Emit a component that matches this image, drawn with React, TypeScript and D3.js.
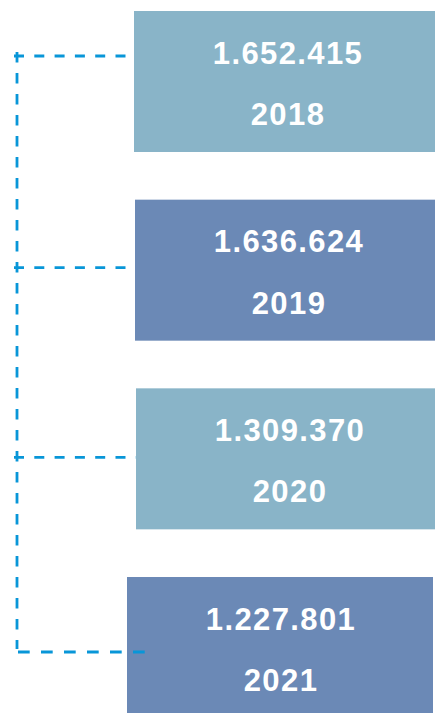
import React from "react";
import * as d3 from "d3";

const years = ["2018", "2019", "2020", "2021"];
const values = [1652415, 1636624, 1309370, 1227801];
const tones = ["light", "dark", "light", "dark"];

const W = 435;
const H = 713;
const boxShift = [0, 1, 2, -7];
const connectorShift = [-25.5, -2.5, -1.5, 4.5];
const connectorEnd = [126, 134, 137, 145];

const fmt = (v: number) => d3.format(",")(v).replace(/,/g, ".");

export default function App() {
  const y = d3
    .scaleBand<string>()
    .domain(years)
    .range([11, 11 + 3 * 188.67 + 141])
    .paddingInner(1 - 141 / 188.67)
    .paddingOuter(0);
  const bw = y.bandwidth();
  const boxLeft = 134;
  const boxW = 306;
  const lineX = 17;
  const color: Record<string, string> = { light: "#89b4c8", dark: "#6b89b6" };
  const lineColor = "#0896d8";
  const cy = (i: number) => (y(years[i]) as number) + bw / 2 + connectorShift[i];

  return (
    <svg
      width={W}
      height={H}
      style={{ position: "absolute", left: 0, top: 0 }}
      fontFamily="'Liberation Sans', Arial, sans-serif"
    >
      <rect width={W} height={H} fill="#fff" />
      <line
        x1={lineX}
        x2={lineX}
        y1={cy(0) - 4}
        y2={cy(years.length - 1) - 3}
        stroke={lineColor}
        strokeWidth={2.8}
        strokeDasharray="10.5,10.5"
      />
      {years.map((yr, i) =>
        i < years.length - 1 ? (
          <line
            key={"c" + yr}
            x1={lineX - 3}
            x2={connectorEnd[i]}
            y1={cy(i)}
            y2={cy(i)}
            stroke={lineColor}
            strokeWidth={2.8}
            strokeDasharray="10,10.3"
          />
        ) : null
      )}
      {years.map((yr, i) => {
        const top = y(yr) as number;
        const left = boxLeft + boxShift[i];
        return (
          <g key={yr}>
            <rect x={left} y={top} width={boxW} height={bw} fill={color[tones[i]]} />
            <text
              x={left + boxW / 2 + 1}
              y={top + 52.5}
              textAnchor="middle"
              fill="#fff"
              fontWeight="bold"
              fontSize={31}
              letterSpacing={1.4}
            >
              {fmt(values[i])}
            </text>
            <text
              x={left + boxW / 2 + 1}
              y={top + 114}
              textAnchor="middle"
              fill="#fff"
              fontWeight="bold"
              fontSize={31}
              letterSpacing={1.4}
            >
              {yr}
            </text>
          </g>
        );
      })}
      {(() => {
        const i = years.length - 1;
        return (
          <line
            x1={lineX + 1}
            x2={connectorEnd[i]}
            y1={cy(i)}
            y2={cy(i)}
            stroke={lineColor}
            strokeWidth={2.8}
            strokeDasharray="11.7,11.3"
          />
        );
      })()}
    </svg>
  );
}
